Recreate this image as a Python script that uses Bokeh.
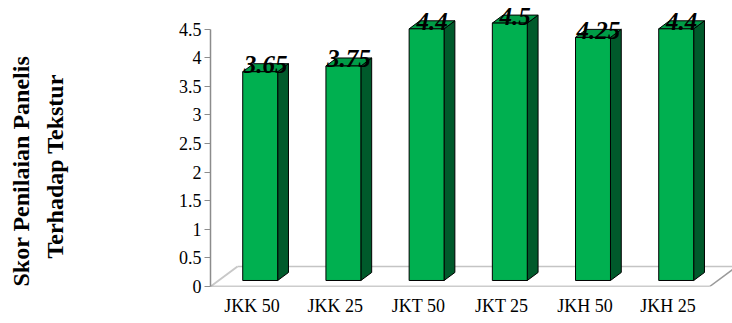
import numpy as np
from bokeh.plotting import figure
from bokeh.models import Range1d, FixedTicker, Title, ColumnDataSource
from bokeh.core.properties import value
from bokeh.embed import file_html
from bokeh.resources import INLINE

# Panel scores for texture, one per sample
categories = ["JKK 50", "JKK 25", "JKT 50", "JKT 25", "JKH 50", "JKH 25"]
scores = [3.65, 3.75, 4.4, 4.5, 4.25, 4.4]

y_ticks = [0, 0.5, 1, 1.5, 2, 2.5, 3, 3.5, 4, 4.5]
y_tick_labels = ["0", "0.5", "1", "1.5", "2", "2.5", "3", "3.5", "4", "4.5"]

title_lines = ["Skor Penilaian Panelis", "Terhadap Tekstur"]

SERIF = "Liberation Serif"
FRONT = "#00B050"
SIDE = "#005A2B"
TOP = "#009C47"

# pseudo-3D projection: how far the floor recedes (data units)
DEPTH_X = 0.3245
DEPTH_Y = 0.35
BAR_FRONT = 0.3     # fraction of depth where bar front sits
BAR_BACK = 0.7
HALF_W = 0.21

n = len(categories)
pos = np.arange(n, dtype=float)
vals = np.array(scores, dtype=float)

p = figure(width=732, height=323, output_backend="svg", toolbar_location=None,
           x_range=Range1d(-0.5, 5.774), y_range=Range1d(0, 5.0),
           min_border_left=210, min_border_right=0, min_border_top=0,
           min_border_bottom=37)
p.title.visible = False
p.outline_line_color = None
p.xgrid.visible = False
p.ygrid.visible = False
p.background_fill_color = "white"
p.border_fill_color = "white"

# floor
fx0, fx1 = -0.5, n - 0.5
p.segment(x0=[fx0 + DEPTH_X], y0=[DEPTH_Y], x1=[fx1 + DEPTH_X], y1=[DEPTH_Y],
          line_color="#c4c4c4", line_width=1.5)
p.segment(x0=[fx0], y0=[0], x1=[fx0 + DEPTH_X], y1=[DEPTH_Y],
          line_color="#c8c8c8", line_width=2)
p.segment(x0=[fx1], y0=[0], x1=[fx1 + DEPTH_X], y1=[DEPTH_Y],
          line_color="#9a9a9a", line_width=1.5)
p.segment(x0=[fx0], y0=[0], x1=[fx1], y1=[0],
          line_color="#9a9a9a", line_width=1.5)

# bars
dx = (BAR_BACK - BAR_FRONT) * DEPTH_X
dy = (BAR_BACK - BAR_FRONT) * DEPTH_Y
left = pos + BAR_FRONT * DEPTH_X - HALF_W
right = pos + BAR_FRONT * DEPTH_X + HALF_W
bottom = np.full(n, BAR_FRONT * DEPTH_Y)
top = bottom + vals

side_xs = [[r, r + dx, r + dx, r] for r in right]
side_ys = [[b, b + dy, t + dy, t] for b, t in zip(bottom, top)]
top_xs = [[l, r, r + dx, l + dx] for l, r in zip(left, right)]
top_ys = [[t, t, t + dy, t + dy] for t in top]

p.patches(xs=side_xs, ys=side_ys, fill_color=SIDE, line_color="black", line_width=1)
p.patches(xs=top_xs, ys=top_ys, fill_color=TOP, line_color="black", line_width=1)
p.quad(left=left, right=right, bottom=bottom, top=top,
       fill_color=FRONT, line_color="black", line_width=1)

# value labels on the bar tops
lab = ColumnDataSource(dict(x=pos + 0.5 * DEPTH_X, y=vals + 0.5 * DEPTH_Y,
                            t=[str(v) for v in scores]))
p.text(x="x", y="y", text="t", source=lab, text_font=value(SERIF),
       text_font_style="bold italic", text_font_size="25px",
       text_align="center", text_baseline="middle", y_offset=-3,
       text_color="black")

# axes
xa = p.xaxis[0]
xa.ticker = FixedTicker(ticks=list(pos))
xa.major_label_overrides = {i: c for i, c in enumerate(categories)}
xa.axis_line_color = None
xa.major_tick_line_color = None
xa.minor_tick_line_color = None
xa.major_tick_out = 0
xa.major_tick_in = 0
xa.major_label_standoff = 9
xa.major_label_text_font = SERIF
xa.major_label_text_font_size = "18px"
xa.major_label_text_color = "black"

ya = p.yaxis[0]
ya.ticker = FixedTicker(ticks=y_ticks)
ya.major_label_overrides = {t: s for t, s in zip(y_ticks, y_tick_labels)}
ya.bounds = (0, 4.5)
ya.axis_line_color = "#8c8c8c"
ya.axis_line_width = 1.5
ya.major_tick_line_color = "#8c8c8c"
ya.major_tick_out = 6
ya.major_tick_in = 0
ya.minor_tick_line_color = None
ya.major_label_standoff = 3
ya.major_label_text_font = SERIF
ya.major_label_text_font_size = "18px"
ya.major_label_text_color = "black"

# two-line vertical axis title, set away from the tick labels by a blank spacer
title_font = dict(text_font="'Liberation Serif'", text_font_style="bold",
                  text_font_size="24px", text_color="black")
p.add_layout(Title(text=" ", standoff=77, **title_font), "left")
for txt, off in [(title_lines[1], 28), (title_lines[0], 0)]:
    p.add_layout(Title(text=txt, align="left", offset=off, standoff=6,
                       **title_font), "left")

open("out.html", "w").write(file_html(p, INLINE))
